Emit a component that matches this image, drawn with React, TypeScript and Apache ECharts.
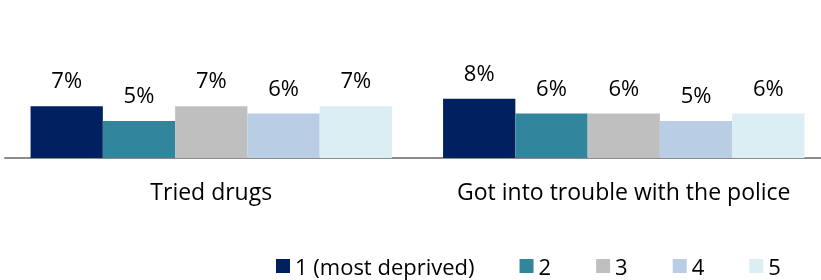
import React, { useEffect, useRef } from "react";
import * as echarts from "echarts";

const categories = ["Tried drugs", "Got into trouble with the police"];
const seriesNames = ["1 (most deprived)", "2", "3", "4", "5"];
const q1 = [7, 8];
const q2 = [5, 6];
const q3 = [7, 6];
const q4 = [6, 5];
const q5 = [7, 6];
const colors = ["#002060", "#31859C", "#BFBFBF", "#B9CDE5", "#DBEEF4"];

const FONT = "Open Sans";
const FS = 22;

export default function App() {
  const ref = useRef<HTMLDivElement>(null);
  useEffect(() => {
    if (!ref.current) return;
    const chart = echarts.init(ref.current, null, { renderer: "svg" });
    const values = [q1, q2, q3, q4, q5];
    chart.setOption({
      animation: false,
      textStyle: { fontFamily: FONT },
      grid: { left: 5, top: 10, width: 825, height: 148 },
      legend: {
        left: 271,
        top: 250,
        itemWidth: 14,
        itemHeight: 14,
        itemGap: 45,
        icon: "rect",
        textStyle: { fontFamily: FONT, fontSize: FS, color: "#000" },
        data: seriesNames,
      },
      xAxis: {
        type: "category",
        data: categories,
        axisLine: { lineStyle: { color: "#8C8C8C", width: 2 } },
        axisTick: { show: false },
        axisLabel: {
          interval: 0,
          fontFamily: FONT,
          fontSize: 23,
          color: "#000",
          margin: 21,
        },
      },
      yAxis: {
        type: "value",
        min: 0,
        max: 20,
        show: false,
        splitLine: { show: false },
      },
      series: seriesNames.map((name, i) => ({
        name,
        type: "bar",
        data: values[i],
        barGap: "0%",
        barCategoryGap: "12.4%",
        itemStyle: { color: colors[i] },
        label: {
          show: true,
          position: "top",
          distance: 16,
          formatter: "{c}%",
          fontFamily: FONT,
          fontSize: FS,
          color: "#000",
        },
      })),
    });
    return () => chart.dispose();
  }, []);
  return (
    <div
      ref={ref}
      style={{ position: "fixed", left: 0, top: 0, width: 840, height: 280 }}
    />
  );
}
